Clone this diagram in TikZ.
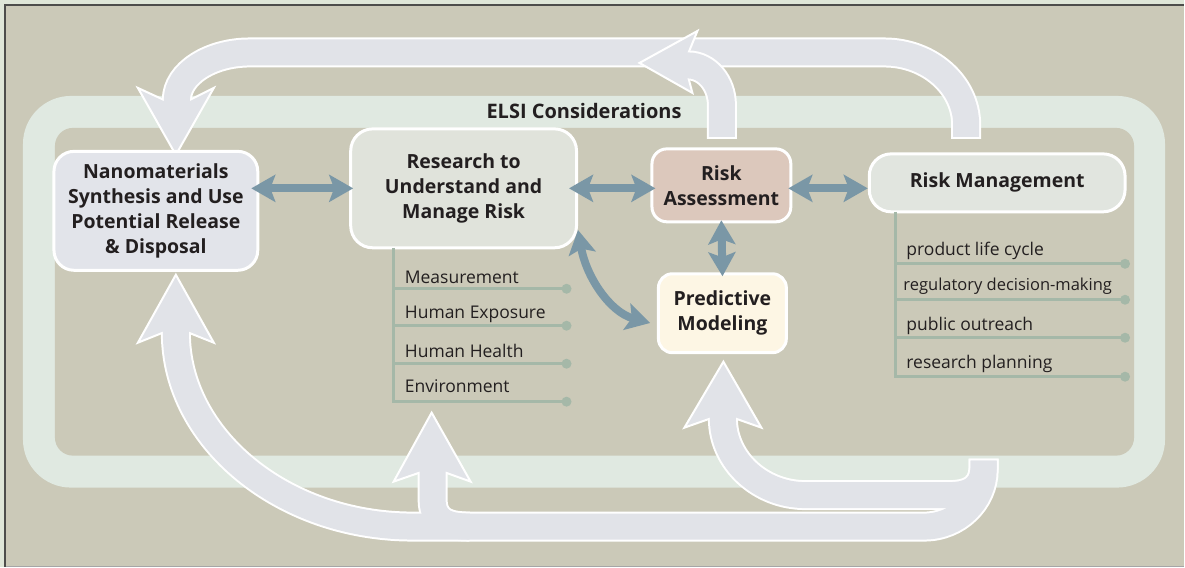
\documentclass[tikz,border=0pt]{standalone}
\usepackage{fontspec}
\setmainfont{Open Sans}
\usetikzlibrary{arrows.meta,positioning}

\definecolor{bgtan}{HTML}{CBC9B8}
\definecolor{rimgreen}{HTML}{DFE6D8}
\definecolor{framegray}{HTML}{4D4D4B}
\definecolor{elsigreen}{HTML}{E0E9E1}
\definecolor{bandfill}{HTML}{E1E3E8}
\definecolor{nanofill}{HTML}{E2E4EA}
\definecolor{researchfill}{HTML}{E0E3DB}
\definecolor{assessfill}{HTML}{DCC8BC}
\definecolor{predictfill}{HTML}{FDF6E4}
\definecolor{managefill}{HTML}{E1E5DF}
\definecolor{linkblue}{HTML}{7A97A6}
\definecolor{listgreen}{HTML}{A5B8A8}
\definecolor{inktext}{HTML}{231F20}

\tikzset{
  bandedge/.style={draw=white, line width=30pt},
  bandbody/.style={draw=bandfill, line width=26pt},
  bandhead/.style={fill=bandfill, draw=white, line width=2pt},
  stage/.style={draw=white, line width=3pt, align=center, text=inktext,
    font=\bfseries\fontsize{19.5}{25}\selectfont, inner sep=0pt},
  link/.style={draw=linkblue, line width=8pt,
    {Stealth[length=24pt,width=27pt,inset=5pt]}-{Stealth[length=24pt,width=27pt,inset=5pt]}},
  tick/.style={draw=listgreen, line width=3pt},
  topic/.style={anchor=base west, inner sep=0pt, text=inktext,
    font=\fontsize{17.5}{20}\selectfont},
}

\begin{document}
\begin{tikzpicture}[x=1pt,y=-1pt]
% Drawing background and frame
\fill[rimgreen] (0,0) rectangle (1185,567);
\fill[bgtan] (4,4) rectangle (1185,567);
\draw[framegray, line width=2pt] (5,567) -- (5,5) -- (1185,5);
\draw[gray!70, line width=1pt] (6,566.5) -- (1185,566.5);
\useasboundingbox (0,0) rectangle (1185,567);

% ELSI band
\fill[elsigreen, rounded corners=48pt] (23,96) rectangle (1166,488);
\fill[bgtan, rounded corners=18pt] (55,128) rectangle (1135,456);
\node[font=\bfseries\fontsize{20}{24}\selectfont, text=inktext] (elsi) at (584.5,111) {ELSI Considerations};

% Top loop: Risk Management back to Nanomaterials
\draw[bandedge] (967,139) -- (967,125) .. controls (967,85) and (930,52.5) .. (885,52.5) -- (250,52.5) .. controls (210,52.5) and (177,74) .. (177,100);
\draw[bandhead] (164,100) -- (138,88) -- (176,155) -- (214,88) -- (190,100) -- cycle;
\draw[bandbody] (967,137) -- (967,125) .. controls (967,85) and (930,52.5) .. (885,52.5) -- (250,52.5) .. controls (210,52.5) and (177,74) .. (177,100) -- (177,103);

% Top loop: Risk Assessment joining in
\draw[bandedge] (722.5,139) -- (722.5,105) .. controls (722.5,83) and (707,65.5) .. (689,65.5);
\draw[bandhead] (689,53) -- (698,31) -- (640,63) -- (693,93) -- (689,78) -- cycle;
\draw[bandbody] (722.5,137) -- (722.5,105) .. controls (722.5,83) and (707,65.5) .. (689,65.5) -- (686,65.5);

% Bottom loop: outlines first
\draw[bandedge] (984.5,459) -- (984.5,470) .. controls (984.5,501) and (958,527) .. (925,527) -- (413,527) .. controls (283,527) and (176,439) .. (176,333);
\draw[bandedge] (984.5,459) -- (984.5,465) .. controls (984.5,485) and (975,495.5) .. (950,495.5) -- (806,495.5) .. controls (761,495.5) and (723.5,461) .. (723.5,419);
\draw[bandedge] (470,527) .. controls (445,527) and (433,520) .. (433,500) -- (433,473);
% Bottom loop: heads
\draw[bandhead] (163,333) -- (138,343) -- (176,275) -- (214,343) -- (189,333) -- cycle;
\draw[bandhead] (710.5,419) -- (685,428) -- (724,362) -- (762,428) -- (736.5,419) -- cycle;
\draw[bandhead] (420,473) -- (394,482) -- (432,413) -- (471,482) -- (446,473) -- cycle;
% Bottom loop: bodies
\draw[bandbody] (984.5,461) -- (984.5,470) .. controls (984.5,501) and (958,527) .. (925,527) -- (413,527) .. controls (283,527) and (176,439) .. (176,333) -- (176,330);
\draw[bandbody] (984.5,461) -- (984.5,465) .. controls (984.5,485) and (975,495.5) .. (950,495.5) -- (806,495.5) .. controls (761,495.5) and (723.5,461) .. (723.5,419) -- (723.5,416);
\draw[bandbody] (470,527) .. controls (445,527) and (433,520) .. (433,500) -- (433,470);

% Stages
\node[stage, fill=nanofill, rounded corners=20pt, minimum width=204pt, minimum height=119pt] (nano) at (156,211) {Nanomaterials\\Synthesis and Use\\Potential Release\\\& Disposal};
\node[stage, fill=researchfill, rounded corners=22pt, minimum width=226pt, minimum height=119pt] (research) at (464,188.5) {Research to\\Understand and\\Manage Risk};
\node[stage, fill=assessfill, rounded corners=15pt, minimum width=139pt, minimum height=73pt] (assess) at (722,185.5) {Risk\\Assessment};
\node[stage, fill=predictfill, rounded corners=14pt, minimum width=128pt, minimum height=79pt] (predict) at (723,313.5) {Predictive\\Modeling};
\node[stage, fill=managefill, rounded corners=22pt, minimum width=256pt, minimum height=58pt] (manage) at (998,183) {Risk Management};

% Links between stages
\draw[link, shorten <=-8pt, shorten >=-4pt] (nano.east |- research.west) -- (research.west);
\draw[link, shorten <=-9pt, shorten >=-5pt] (research.east) -- (assess.west |- research.east);
\draw[link, shorten <=-4pt] ([yshift=-3pt]assess.east) -- ([yshift=-3pt]assess.east -| manage.west);
\draw[link, shorten <=-3pt, shorten >=-4pt] (assess.south) -- (predict.north);
\draw[link, shorten >=7pt] (research.-20) to[out=-80, in=165] (predict.190);

% Research topics
\coordinate (rtop) at (394,248);
\coordinate (rbot) at (394,403.5);
\draw[tick] (rtop) -- (rbot);
% Item 1: Measurement
\node[topic] (rtopic1) at (405,284) {Measurement};
\coordinate (rdot1) at (567,289);
\draw[tick] (394,289) -- (rdot1);
\fill[listgreen] (rdot1) circle (5pt);
% Item 2: Human Exposure
\node[topic] (rtopic2) at (405,319) {Human Exposure};
\coordinate (rdot2) at (567,326);
\draw[tick] (394,326) -- (rdot2);
\fill[listgreen] (rdot2) circle (5pt);
% Item 3: Human Health
\node[topic] (rtopic3) at (405,358) {Human Health};
\coordinate (rdot3) at (567,364);
\draw[tick] (394,364) -- (rdot3);
\fill[listgreen] (rdot3) circle (5pt);
% Item 4: Environment
\node[topic] (rtopic4) at (405,393) {Environment};
\coordinate (rdot4) at (567,402);
\draw[tick] (394,402) -- (rdot4);
\fill[listgreen] (rdot4) circle (5pt);

% Management topics
\coordinate (mtop) at (896,212);
\coordinate (mbot) at (896,378.5);
\draw[tick] (mtop) -- (mbot);
% Item 1: product life cycle
\node[topic] (mtopic1) at (907,256) {product life cycle};
\coordinate (mdot1) at (1126,264);
\draw[tick] (896,264) -- (mdot1);
\fill[listgreen] (mdot1) circle (5pt);
% Item 2: regulatory decision-making
\node[topic, font=\fontsize{16.5}{20}\selectfont] (mtopic2) at (904,291) {regulatory decision-making};
\coordinate (mdot2) at (1126,300);
\draw[tick] (896,300) -- (mdot2);
\fill[listgreen] (mdot2) circle (5pt);
% Item 3: public outreach
\node[topic] (mtopic3) at (907,331) {public outreach};
\coordinate (mdot3) at (1126,338);
\draw[tick] (896,338) -- (mdot3);
\fill[listgreen] (mdot3) circle (5pt);
% Item 4: research planning
\node[topic] (mtopic4) at (907,369) {research planning};
\coordinate (mdot4) at (1126,377);
\draw[tick] (896,377) -- (mdot4);
\fill[listgreen] (mdot4) circle (5pt);
\end{tikzpicture}
\end{document}
